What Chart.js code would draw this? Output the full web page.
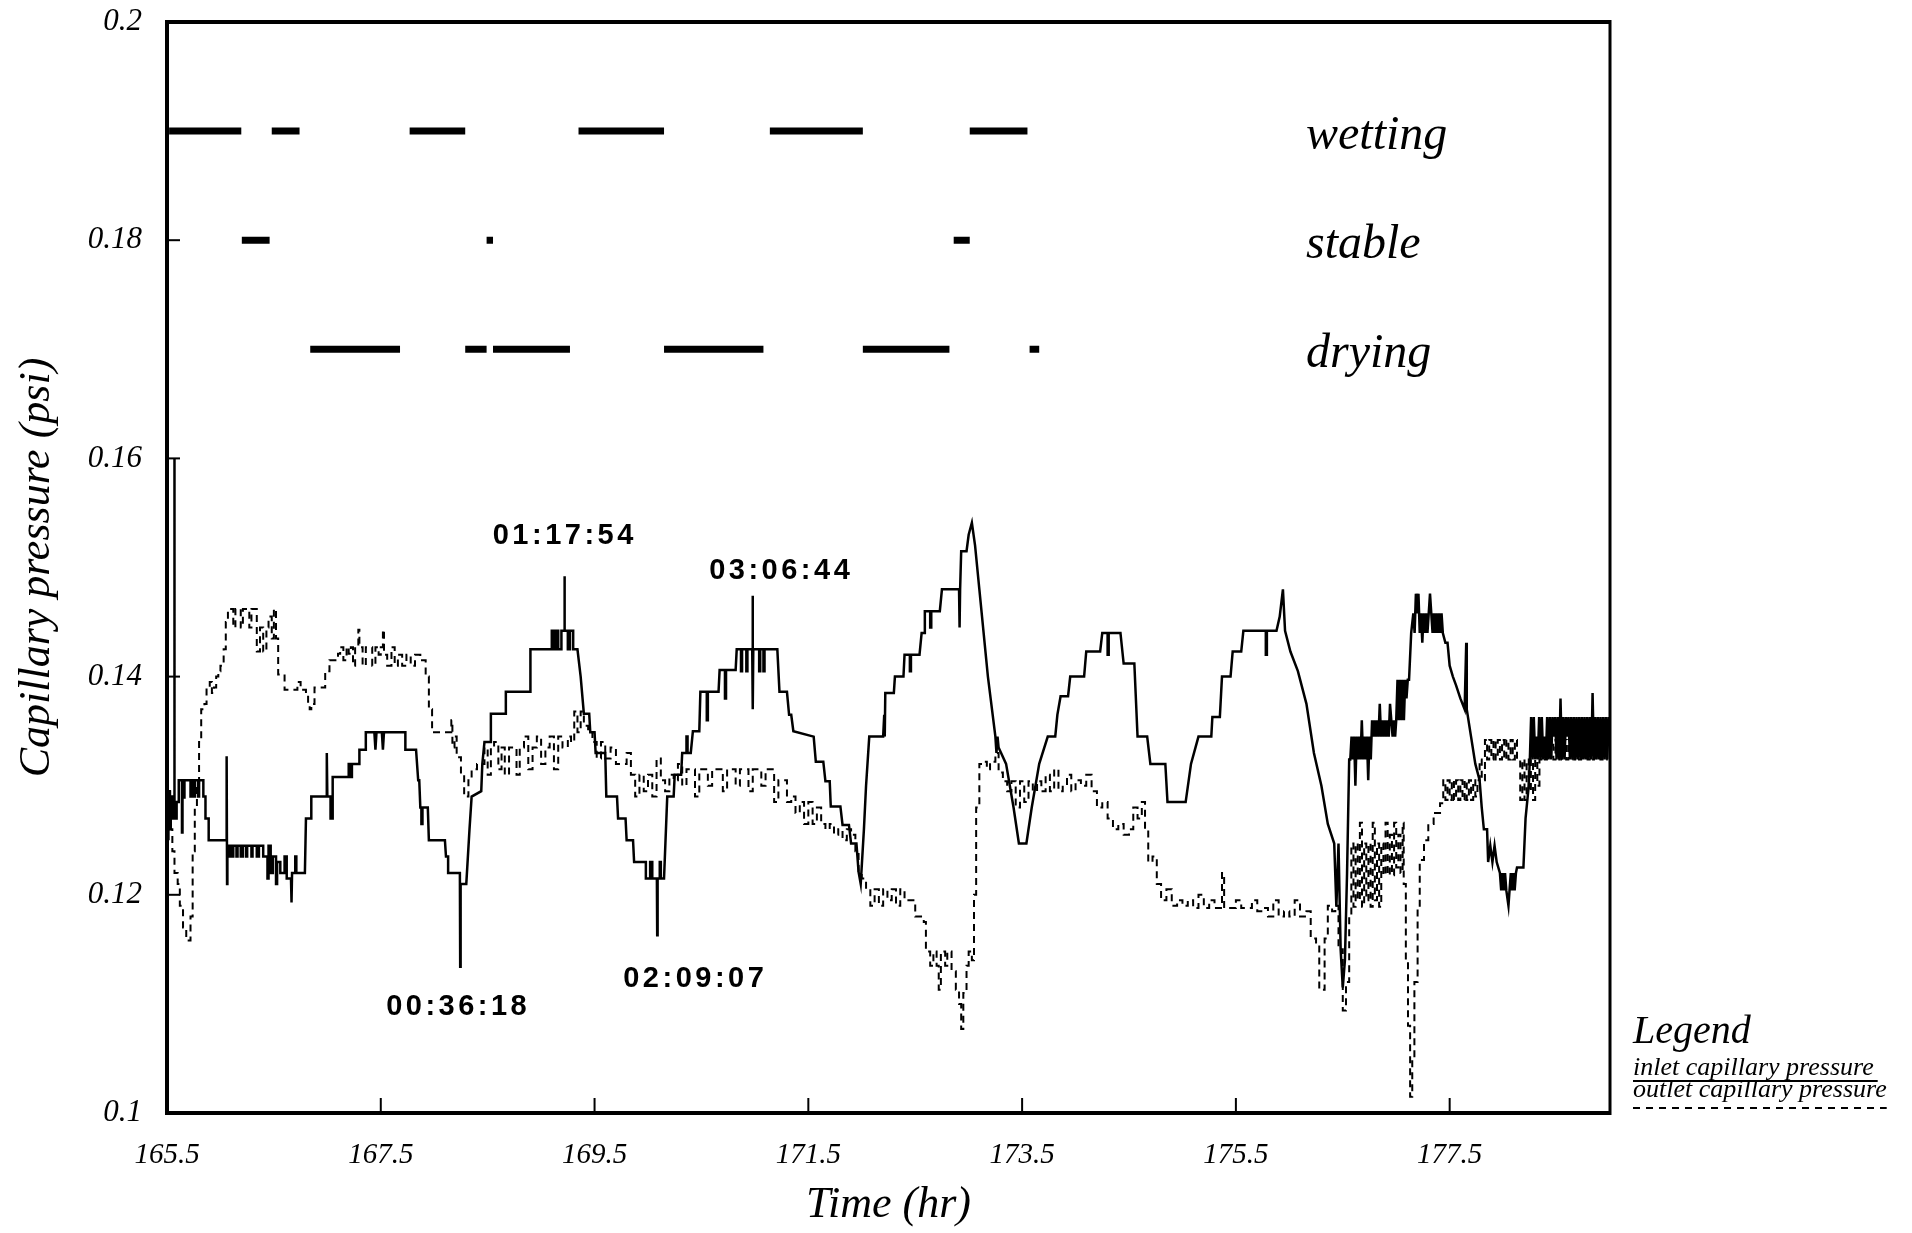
<!DOCTYPE html>
<html><head><meta charset="utf-8">
<script src="https://cdn.jsdelivr.net/npm/chart.js@4.4.1/dist/chart.umd.min.js"></script>
<style>html,body{margin:0;padding:0;background:#fff;}#wrap{width:1912px;height:1233px;}</style>
</head><body><div id="wrap"><canvas id="c" width="1912" height="1233"></canvas></div>
<script>
// ---------- data ----------
const xTickValues = [165.5, 167.5, 169.5, 171.5, 173.5, 175.5, 177.5];
const xTickLabels = ['165.5', '167.5', '169.5', '171.5', '173.5', '175.5', '177.5'];
const yTickValues = [0.1, 0.12, 0.14, 0.16, 0.18, 0.2];
const yTickLabels = ['0.1', '0.12', '0.14', '0.16', '0.18', '0.2'];

const phaseNames = ['wetting', 'stable', 'drying'];
const phaseLevels = [0.19, 0.18, 0.17];
const wettingSpans = [[165.52,166.195],[166.48,166.74],[167.77,168.29],[169.35,170.15],[171.14,172.01],[173.01,173.55]];
const stableSpans  = [[166.20,166.46],[168.49,168.55],[172.86,173.01]];
const dryingSpans  = [[166.84,167.68],[168.29,168.49],[168.55,169.27],[170.15,171.08],[172.01,172.82],[173.57,173.66]];

const inletPressure = [
[165.50,0.127],[165.51,0.127],[165.51,0.125],[165.515,0.125],[165.515,0.1295],[165.525,0.1295],[165.525,0.126],[165.535,0.126],[165.535,0.129],[165.55,0.129],[165.55,0.127],[165.566,0.127],[165.568,0.160],[165.572,0.127],[165.59,0.127],[165.59,0.1285],[165.61,0.1285],[165.61,0.1305],[165.64,0.1305],[165.64,0.1257],[165.645,0.1257],[165.645,0.1305],[165.66,0.1305],[165.66,0.1288],[165.665,0.1288],[165.665,0.1305],[165.72,0.1305],[165.72,0.129],[165.73,0.129],[165.73,0.1305],[165.75,0.1305],[165.75,0.129],[165.76,0.129],[165.76,0.1305],[165.79,0.1305],[165.79,0.129],[165.80,0.129],[165.80,0.1305],[165.84,0.1305],[165.84,0.129],[165.86,0.129],[165.86,0.127],[165.89,0.127],[165.89,0.125],[166.055,0.125],[166.058,0.1327],[166.062,0.121],[166.065,0.1245],
[166.08,0.1245],[166.08,0.1235],[166.09,0.1235],[166.09,0.1245],[166.11,0.1245],[166.11,0.1235],[166.12,0.1235],[166.12,0.1245],[166.15,0.1245],[166.15,0.1235],[166.16,0.1235],[166.16,0.1245],[166.19,0.1245],[166.19,0.1235],[166.21,0.1235],[166.21,0.1245],[166.24,0.1245],[166.24,0.1235],[166.25,0.1235],[166.25,0.1245],[166.29,0.1245],[166.29,0.1235],[166.30,0.1235],[166.30,0.1245],[166.34,0.1245],[166.34,0.1235],[166.36,0.1235],[166.36,0.1245],[166.40,0.1245],[166.40,0.1235],[166.44,0.1235],[166.44,0.1215],[166.45,0.1215],[166.45,0.1245],[166.47,0.1245],[166.47,0.122],[166.49,0.122],[166.49,0.1235],[166.52,0.1235],[166.52,0.121],[166.53,0.121],[166.53,0.123],[166.56,0.123],[166.56,0.122],[166.60,0.122],[166.60,0.1235],[166.62,0.1235],[166.62,0.1215],[166.66,0.1215],[166.665,0.1193],[166.67,0.122],[166.70,0.122],[166.70,0.1235],[166.71,0.1235],[166.71,0.122],[166.79,0.122],
[166.80,0.127],[166.85,0.127],[166.85,0.129],[166.99,0.129],[166.995,0.133],[167.0,0.129],[167.03,0.129],[167.03,0.127],[167.05,0.127],[167.05,0.1308],[167.20,0.1308],[167.20,0.132],[167.22,0.132],[167.22,0.1308],[167.23,0.1308],[167.23,0.132],[167.30,0.132],[167.30,0.1333],[167.36,0.1333],[167.36,0.1349],[167.44,0.1349],[167.45,0.1333],[167.46,0.1349],[167.51,0.1349],[167.52,0.1333],[167.53,0.1349],[167.73,0.1349],[167.73,0.1333],[167.83,0.1333],[167.85,0.1305],[167.86,0.1305],[167.87,0.128],[167.88,0.128],[167.88,0.1265],[167.89,0.1265],[167.89,0.128],[167.94,0.128],[167.95,0.125],[168.10,0.125],[168.11,0.1235],[168.13,0.1235],[168.13,0.122],[168.24,0.122],[168.243,0.1134],[168.247,0.121],[168.30,0.121],[168.33,0.126],[168.35,0.129],[168.44,0.1295],[168.45,0.132],[168.47,0.134],[168.53,0.134],[168.53,0.1366],[168.67,0.1366],[168.67,0.1386],[168.90,0.1386],[168.90,0.1425],
[169.10,0.1425],[169.10,0.1442],[169.12,0.1442],[169.12,0.1425],[169.14,0.1425],[169.14,0.1442],[169.16,0.1442],[169.16,0.1425],[169.19,0.1425],[169.19,0.1442],[169.215,0.1442],[169.218,0.1492],[169.222,0.1442],[169.25,0.1442],[169.25,0.1425],[169.27,0.1425],[169.27,0.1442],[169.30,0.1442],[169.30,0.1425],[169.34,0.1425],[169.37,0.14],[169.40,0.1366],[169.45,0.1366],[169.46,0.1349],[169.50,0.1349],[169.51,0.133],[169.60,0.133],[169.61,0.129],[169.71,0.129],[169.72,0.127],[169.79,0.127],[169.80,0.125],[169.86,0.125],[169.87,0.123],[169.98,0.123],[169.98,0.1215],[170.02,0.1215],[170.02,0.123],[170.04,0.123],[170.04,0.1215],[170.083,0.1215],[170.086,0.1163],[170.09,0.1215],[170.11,0.1215],[170.11,0.123],[170.12,0.123],[170.12,0.1215],[170.15,0.1215],
[170.18,0.129],[170.24,0.129],[170.25,0.131],[170.31,0.131],[170.32,0.133],[170.36,0.133],[170.36,0.1345],[170.37,0.1345],[170.37,0.133],[170.40,0.133],[170.42,0.135],[170.48,0.135],[170.49,0.1386],[170.55,0.1386],[170.55,0.136],[170.56,0.136],[170.56,0.1386],[170.66,0.1386],[170.67,0.1406],[170.72,0.1406],[170.72,0.138],[170.73,0.138],[170.73,0.1406],[170.82,0.1406],[170.83,0.1425],[170.87,0.1425],[170.87,0.1405],[170.88,0.1405],[170.88,0.1425],[170.92,0.1425],[170.92,0.1405],[170.93,0.1405],[170.93,0.1425],[170.975,0.1425],[170.978,0.1474],[170.982,0.137],[170.985,0.1425],[171.04,0.1425],[171.04,0.1405],[171.05,0.1405],[171.05,0.1425],[171.08,0.1425],[171.08,0.1405],[171.09,0.1405],[171.09,0.1425],[171.21,0.1425],[171.23,0.1386],[171.30,0.1386],[171.32,0.1365],[171.34,0.1365],[171.36,0.135],[171.55,0.1345],[171.57,0.1322],[171.64,0.1322],[171.66,0.1304],[171.70,0.1304],[171.71,0.1281],[171.80,0.1281],[171.82,0.1264],[171.88,0.1264],[171.90,0.1247],[171.95,0.1247],[171.97,0.1221],[171.99,0.121],
[172.02,0.126],[172.04,0.13],[172.07,0.1345],[172.20,0.1345],[172.21,0.1365],[172.215,0.1345],[172.22,0.1385],[172.30,0.1385],[172.31,0.14],[172.39,0.14],[172.40,0.142],[172.45,0.142],[172.45,0.1405],[172.46,0.1405],[172.46,0.142],[172.54,0.142],[172.56,0.144],[172.585,0.144],[172.59,0.146],[172.64,0.146],[172.64,0.1445],[172.65,0.1445],[172.65,0.146],[172.73,0.146],[172.75,0.148],[172.91,0.148],[172.915,0.1445],[172.92,0.148],[172.93,0.1515],[172.98,0.1515],[173.00,0.153],[173.03,0.1541],[173.06,0.152],[173.10,0.148],[173.18,0.140],[173.25,0.1345],[173.26,0.133],[173.27,0.1345],[173.28,0.1335],[173.35,0.132],[173.42,0.128],[173.47,0.1247],[173.54,0.1247],[173.59,0.128],[173.66,0.132],[173.74,0.1345],[173.81,0.1345],[173.83,0.1365],[173.86,0.1382],[173.93,0.1382],[173.95,0.140],
[174.08,0.140],[174.10,0.1423],[174.23,0.1423],[174.25,0.144],[174.30,0.144],[174.30,0.142],[174.31,0.142],[174.31,0.144],[174.42,0.144],[174.45,0.1412],[174.55,0.1412],[174.58,0.1345],[174.67,0.1345],[174.70,0.132],[174.84,0.132],[174.86,0.1285],[175.03,0.1285],[175.08,0.132],[175.15,0.1345],[175.27,0.1345],[175.28,0.1363],[175.35,0.1363],[175.37,0.140],[175.45,0.140],[175.47,0.1423],[175.55,0.1423],[175.57,0.1442],[175.78,0.1442],[175.78,0.1420],[175.79,0.1420],[175.79,0.1442],[175.88,0.1442],[175.91,0.1455],[175.94,0.148],[175.96,0.1442],[176.01,0.1423],[176.08,0.1405],[176.16,0.1375],[176.23,0.133],[176.30,0.130],[176.36,0.1265],[176.42,0.1247],[176.44,0.1189],[176.46,0.1247],[176.48,0.1150],[176.50,0.1115],[176.52,0.114],[176.54,0.122],[176.56,0.1324],
[176.57,0.1324],[176.582,0.1345],[176.594,0.1324],[176.606,0.1345],[176.618,0.1300],[176.63,0.1345],[176.642,0.1324],[176.654,0.1345],[176.666,0.1324],[176.678,0.1360],[176.69,0.1324],[176.702,0.1345],[176.714,0.1324],[176.726,0.1345],[176.738,0.1305],[176.75,0.1345],[176.762,0.1324],[176.774,0.1360],[176.786,0.1345],[176.798,0.1360],[176.81,0.1345],[176.822,0.1360],[176.834,0.1345],[176.846,0.1375],[176.858,0.1345],[176.87,0.1360],[176.882,0.1345],[176.894,0.1360],[176.906,0.1345],[176.918,0.1360],[176.93,0.1345],[176.942,0.1375],[176.954,0.1360],[176.966,0.1345],[176.978,0.1360],[176.99,0.1345],[177.0,0.1360],[177.012,0.1397],[177.024,0.1360],[177.036,0.1397],[177.048,0.1360],[177.06,0.1397],[177.072,0.1360],[177.084,0.1397],[177.096,0.1380],[177.108,0.1397],[177.12,0.1397],[177.14,0.1440],
[177.16,0.1458],[177.172,0.1440],[177.184,0.1476],[177.196,0.1458],[177.208,0.1476],[177.22,0.1440],[177.232,0.1458],[177.244,0.1431],[177.256,0.1458],[177.268,0.1440],[177.28,0.1458],[177.292,0.1440],[177.304,0.1458],[177.316,0.1476],[177.328,0.1458],[177.34,0.1440],[177.352,0.1458],[177.364,0.1440],[177.376,0.1458],[177.388,0.1440],[177.40,0.1458],[177.412,0.1440],[177.424,0.1458],[177.436,0.1440],[177.46,0.1431],[177.48,0.1431],[177.50,0.1410],[177.53,0.1400],[177.56,0.1392],[177.60,0.1380],[177.64,0.1370],[177.655,0.1431],[177.66,0.1370],[177.70,0.1345],[177.74,0.1320],[177.78,0.1305],[177.80,0.1280],[177.82,0.1260],[177.85,0.1260],[177.86,0.1230],[177.88,0.1245],[177.90,0.1230],[177.92,0.1245],[177.94,0.1230],[177.97,0.1220],[177.982,0.1204],[177.994,0.1220],[178.006,0.1204],[178.018,0.1220],[178.03,0.1204],[178.05,0.1190],[178.06,0.1204],[178.072,0.1220],[178.084,0.1204],[178.096,0.1220],[178.108,0.1204],[178.12,0.1220],[178.13,0.1225],[178.19,0.1225],[178.21,0.1270],[178.24,0.1300],[178.25,0.1324],
[178.262,0.1363],[178.275,0.1324],[178.287,0.1363],[178.30,0.1324],[178.312,0.1345],[178.325,0.1324],[178.337,0.1363],[178.35,0.1324],[178.362,0.1363],[178.375,0.1324],[178.387,0.1345],[178.40,0.1324],[178.412,0.1363],[178.425,0.1324],[178.437,0.1363],[178.45,0.1324],[178.462,0.1363],[178.475,0.1345],[178.487,0.1363],[178.50,0.1324],[178.512,0.1363],[178.525,0.1324],[178.537,0.1380],[178.55,0.1324],[178.562,0.1363],[178.575,0.1324],[178.587,0.1363],[178.60,0.1345],[178.612,0.1363],[178.625,0.1324],[178.637,0.1363],[178.65,0.1324],[178.662,0.1363],[178.675,0.1324],[178.687,0.1363],[178.70,0.1324],[178.712,0.1363],[178.725,0.1324],[178.737,0.1363],[178.75,0.1324],[178.762,0.1363],[178.775,0.1324],[178.787,0.1363],[178.80,0.1324],[178.812,0.1363],[178.825,0.1324],[178.837,0.1385],[178.85,0.1324],[178.862,0.1363],[178.875,0.1324],[178.887,0.1363],[178.90,0.1324],[178.912,0.1363],[178.925,0.1324],[178.937,0.1363],[178.95,0.1324],[178.962,0.1363],[178.975,0.1324],[178.987,0.1363],[179.0,0.1345]
];

const outletPressure = [
[165.52,0.1295],[165.53,0.126],[165.55,0.124],[165.57,0.122],[165.60,0.121],[165.62,0.119],[165.65,0.117],[165.68,0.1158],[165.70,0.1158],[165.72,0.118],[165.74,0.124],[165.76,0.128],[165.78,0.130],[165.80,0.134],[165.82,0.137],[165.85,0.1375],[165.87,0.139],[165.90,0.1395],[165.92,0.1385],[165.94,0.139],[165.96,0.140],[165.98,0.1405],[166.00,0.141],[166.03,0.1425],[166.05,0.145],[166.07,0.146],[166.10,0.1462],[166.12,0.1445],[166.14,0.1462],[166.17,0.1462],[166.19,0.1445],[166.21,0.1462],[166.25,0.1462],[166.27,0.1445],[166.29,0.1462],[166.32,0.1462],[166.34,0.1423],[166.37,0.1445],[166.40,0.1423],[166.43,0.1445],[166.45,0.1455],[166.48,0.1435],[166.50,0.1462],[166.52,0.1435],[166.54,0.1402],[166.58,0.1402],[166.60,0.1388],[166.70,0.1388],[166.72,0.1395],[166.75,0.1388],[166.80,0.1385],[166.82,0.1375],[166.835,0.137],[166.85,0.1375],[166.88,0.139],[166.95,0.139],[166.98,0.1405],
[167.02,0.1415],[167.10,0.1421],[167.12,0.1427],[167.15,0.1415],[167.18,0.1427],[167.20,0.1421],[167.22,0.1427],[167.24,0.1410],[167.26,0.1427],[167.28,0.1427],[167.29,0.1443],[167.30,0.1427],[167.33,0.1410],[167.36,0.1427],[167.40,0.1427],[167.42,0.1410],[167.45,0.1427],[167.48,0.1420],[167.50,0.1427],[167.52,0.1443],[167.53,0.1420],[167.56,0.1410],[167.60,0.1427],[167.63,0.1410],[167.66,0.1420],[167.70,0.1410],[167.74,0.1420],[167.78,0.1410],[167.82,0.1420],[167.87,0.1415],[167.90,0.1415],[167.92,0.140],[167.95,0.137],[167.98,0.1349],[168.05,0.1349],[168.10,0.1349],[168.15,0.1349],[168.16,0.136],[168.17,0.1335],[168.19,0.1345],[168.21,0.1326],[168.25,0.131],[168.28,0.129],[168.32,0.1305],[168.35,0.1315],[168.40,0.132],[168.44,0.132],[168.47,0.1335],[168.50,0.131],[168.53,0.1335],[168.56,0.134],[168.60,0.1315],[168.63,0.1335],[168.66,0.131],[168.70,0.1335],[168.74,0.1335],[168.77,0.131],[168.80,0.1335],[168.84,0.1345],[168.88,0.1315],[168.92,0.1335],[168.96,0.1345],
[169.00,0.132],[169.04,0.1335],[169.08,0.1345],[169.12,0.1315],[169.16,0.1345],[169.20,0.1335],[169.25,0.1345],[169.28,0.134],[169.31,0.1368],[169.34,0.1349],[169.37,0.1368],[169.40,0.1355],[169.44,0.1349],[169.48,0.134],[169.52,0.1325],[169.56,0.134],[169.60,0.1325],[169.65,0.1335],[169.70,0.132],[169.75,0.132],[169.80,0.133],[169.84,0.131],[169.88,0.129],[169.92,0.131],[169.96,0.1295],[170.00,0.131],[170.04,0.129],[170.08,0.1325],[170.12,0.1305],[170.16,0.1295],[170.20,0.131],[170.24,0.1305],[170.28,0.132],[170.32,0.13],[170.36,0.1315],[170.40,0.1315],[170.44,0.129],[170.48,0.1315],[170.52,0.1315],[170.56,0.13],[170.60,0.1315],[170.65,0.1315],[170.70,0.1295],[170.74,0.1315],[170.78,0.1315],[170.82,0.13],[170.86,0.1315],[170.90,0.1315],[170.94,0.1295],[170.98,0.1315],
[171.02,0.1315],[171.06,0.130],[171.10,0.1315],[171.14,0.1315],[171.18,0.1285],[171.22,0.1305],[171.26,0.1305],[171.30,0.1285],[171.34,0.129],[171.38,0.1275],[171.42,0.1285],[171.46,0.1265],[171.50,0.1285],[171.54,0.1265],[171.58,0.128],[171.62,0.1265],[171.66,0.126],[171.70,0.1265],[171.74,0.1255],[171.78,0.126],[171.82,0.125],[171.86,0.126],[171.90,0.1255],[171.94,0.124],[171.97,0.122],[172.00,0.1215],[172.04,0.1205],[172.08,0.119],[172.12,0.1205],[172.16,0.119],[172.20,0.1205],[172.24,0.1195],[172.28,0.1205],[172.32,0.119],[172.36,0.1205],[172.40,0.1195],[172.45,0.1195],[172.50,0.118],[172.55,0.118],[172.58,0.1175],[172.60,0.1148],[172.64,0.1135],[172.67,0.1148],[172.70,0.1135],[172.72,0.1113],[172.74,0.1148],[172.78,0.1135],[172.80,0.1148],[172.84,0.113],[172.88,0.1113],[172.91,0.1100],[172.93,0.1077],[172.95,0.1110],[172.98,0.1135],
[173.00,0.1148],[173.03,0.1140],[173.05,0.120],[173.07,0.128],[173.10,0.132],[173.14,0.1322],[173.17,0.1315],[173.20,0.1322],[173.25,0.133],[173.28,0.1312],[173.32,0.1304],[173.36,0.1295],[173.40,0.1304],[173.44,0.128],[173.48,0.1304],[173.52,0.1285],[173.56,0.1304],[173.60,0.1295],[173.64,0.1304],[173.68,0.1295],[173.72,0.131],[173.76,0.1295],[173.80,0.1315],[173.84,0.1295],[173.88,0.130],[173.92,0.131],[173.96,0.1295],[174.00,0.1305],[174.05,0.130],[174.10,0.131],[174.15,0.1295],[174.20,0.128],[174.25,0.1285],[174.30,0.127],[174.35,0.126],[174.40,0.1265],[174.45,0.1255],[174.50,0.126],[174.54,0.128],[174.58,0.127],[174.62,0.1285],[174.65,0.126],[174.68,0.123],[174.72,0.1235],[174.76,0.121],[174.80,0.1195],[174.85,0.1205],[174.90,0.119],[174.95,0.1195],
[175.00,0.119],[175.05,0.1195],[175.10,0.1188],[175.15,0.120],[175.20,0.1188],[175.25,0.1195],[175.30,0.1188],[175.35,0.1188],[175.37,0.122],[175.39,0.1188],[175.45,0.1188],[175.50,0.1195],[175.55,0.1188],[175.60,0.1188],[175.65,0.1195],[175.70,0.1185],[175.75,0.1188],[175.80,0.118],[175.85,0.1195],[175.90,0.118],[175.95,0.1185],[176.00,0.118],[176.05,0.1195],[176.10,0.118],[176.16,0.1185],[176.20,0.116],[176.25,0.1155],[176.28,0.1113],[176.31,0.1113],[176.33,0.1160],[176.36,0.119],[176.40,0.1185],[176.43,0.119],[176.46,0.115],[176.50,0.1094],[176.53,0.112],[176.56,0.118],
[176.58,0.1247],[176.60,0.1189],[176.62,0.1247],[176.64,0.1195],[176.66,0.1266],[176.68,0.1189],[176.70,0.1247],[176.72,0.1195],[176.74,0.1247],[176.76,0.1189],[176.78,0.1266],[176.80,0.1195],[176.82,0.1247],[176.84,0.1189],[176.86,0.1247],[176.88,0.1218],[176.90,0.1266],[176.92,0.1218],[176.94,0.1255],[176.96,0.1218],[176.98,0.1266],[177.00,0.1225],[177.02,0.1255],[177.04,0.122],[177.06,0.1266],[177.07,0.121],[177.09,0.114],[177.11,0.108],[177.13,0.1015],[177.15,0.105],[177.17,0.112],[177.20,0.119],[177.22,0.1232],[177.26,0.125],[177.30,0.1265],[177.35,0.1275],[177.41,0.1284],
[177.44,0.1305],[177.46,0.1287],[177.48,0.1305],[177.50,0.1287],[177.52,0.1305],[177.54,0.1287],[177.56,0.1305],[177.58,0.1287],[177.60,0.1305],[177.62,0.1287],[177.64,0.1305],[177.66,0.1287],[177.68,0.1305],[177.70,0.1287],[177.72,0.1305],[177.74,0.1290],[177.76,0.1305],[177.78,0.1324],[177.80,0.1305],[177.83,0.1342],[177.85,0.1324],[177.87,0.1342],[177.89,0.1324],[177.91,0.1342],[177.93,0.1324],[177.95,0.1342],[177.97,0.1324],[177.99,0.1342],[178.01,0.1324],[178.03,0.1342],[178.05,0.1324],[178.07,0.1342],[178.09,0.1324],[178.11,0.1342],[178.13,0.1324],[178.16,0.1287],[178.18,0.1324],[178.20,0.1287],[178.22,0.1324],[178.24,0.1295],[178.26,0.1324],[178.28,0.1287],[178.30,0.1324],[178.32,0.1300],[178.34,0.1324],[178.37,0.1342],
[178.39,0.1324],[178.41,0.1342],[178.43,0.1324],[178.45,0.1342],[178.47,0.1324],[178.49,0.1342],[178.51,0.1324],[178.53,0.1342],[178.55,0.1324],[178.57,0.1342],[178.59,0.1324],[178.61,0.1342],[178.63,0.1324],[178.65,0.1342],[178.67,0.1324],[178.69,0.1342],[178.71,0.1324],[178.73,0.1342],[178.75,0.1324],[178.77,0.1342],[178.79,0.1324],[178.81,0.1342],[178.83,0.1324],[178.85,0.1342],[178.87,0.1324],[178.89,0.1342],[178.91,0.1324],[178.93,0.1342],[178.95,0.1324],[178.97,0.1342],[179.00,0.1335]
];

const timeStampLabels = ['01:17:54', '03:06:44', '00:36:18', '02:09:07'];
const seriesNames = ['inlet capillary pressure', 'outlet capillary pressure'];

// ---------- layout (label anchors, in axis units) ----------
const timeStampAnchors = [[169.205,0.1529],[171.23,0.1497],[168.208,0.1097],[170.426,0.1123]];
const phaseLabelTime = 176.156;

const SERIF = '"Liberation Serif", "Times New Roman", serif';
const SANS = '"Liberation Sans", Arial, sans-serif';

function spansToPoints(spans, level) {
  const pts = [];
  spans.forEach(([s, e]) => { pts.push({x: s, y: level}, {x: e, y: level}, {x: e, y: null}); });
  return pts;
}
function pairsToPoints(pairs) { return pairs.map(([t, p]) => ({x: t, y: p})); }

function spacedText(ctx, text, cx, cy, spacing) {
  let w = 0;
  const ws = [...text].map(ch => ctx.measureText(ch).width);
  ws.forEach(v => w += v);
  w += spacing * (ws.length - 1);
  let xx = cx - w / 2;
  [...text].forEach((ch, i) => { ctx.fillText(ch, xx, cy); xx += ws[i] + spacing; });
}

const decor = {
  id: 'decor',
  afterDatasetsDraw(chart) {
    const {ctx, chartArea: a, scales: {x, y}} = chart;
    ctx.save();
    ctx.strokeStyle = '#000'; ctx.fillStyle = '#000'; ctx.lineCap = 'butt'; ctx.setLineDash([]);
    // frame
    ctx.lineWidth = 4;
    ctx.beginPath();
    ctx.moveTo(a.right, a.top); ctx.lineTo(a.left, a.top); ctx.lineTo(a.left, a.bottom); ctx.lineTo(a.right, a.bottom);
    ctx.stroke();
    ctx.lineWidth = 3;
    ctx.beginPath(); ctx.moveTo(a.right, a.top - 2); ctx.lineTo(a.right, a.bottom + 2); ctx.stroke();
    // inward ticks
    ctx.lineWidth = 2;
    xTickValues.forEach(v => { const px = x.getPixelForValue(v); ctx.beginPath(); ctx.moveTo(px, a.bottom); ctx.lineTo(px, a.bottom - 15); ctx.stroke(); });
    yTickValues.forEach(v => { const py = y.getPixelForValue(v); ctx.beginPath(); ctx.moveTo(a.left, py); ctx.lineTo(a.left + 13, py); ctx.stroke(); });
    // phase labels
    ctx.font = 'italic 48px ' + SERIF;
    ctx.textAlign = 'left'; ctx.textBaseline = 'alphabetic';
    phaseNames.forEach((n, i) => ctx.fillText(n, x.getPixelForValue(phaseLabelTime), y.getPixelForValue(phaseLevels[i]) + 18));
    // time stamps
    ctx.font = 'bold 29px ' + SANS;
    ctx.textBaseline = 'middle';
    timeStampLabels.forEach((t, i) => spacedText(ctx, t, x.getPixelForValue(timeStampAnchors[i][0]), y.getPixelForValue(timeStampAnchors[i][1]), 3.5));
    // legend
    const lx = a.right + 23;
    ctx.textAlign = 'left'; ctx.textBaseline = 'alphabetic';
    ctx.font = 'italic 40px ' + SERIF;
    ctx.fillText('Legend', lx, a.bottom - 70);
    ctx.font = 'italic 26px ' + SERIF;
    ctx.fillText(seriesNames[0], lx, a.bottom - 38);
    let w0 = ctx.measureText(seriesNames[0]).width;
    ctx.lineWidth = 2;
    ctx.beginPath(); ctx.moveTo(lx, a.bottom - 32); ctx.lineTo(lx + w0 + 4, a.bottom - 32); ctx.stroke();
    ctx.fillText(seriesNames[1], lx, a.bottom - 16);
    let w1 = ctx.measureText(seriesNames[1]).width;
    ctx.setLineDash([7, 6]);
    ctx.beginPath(); ctx.moveTo(lx, a.bottom - 5); ctx.lineTo(lx + w1, a.bottom - 5); ctx.stroke();
    ctx.restore();
  }
};

new Chart(document.getElementById('c'), {
  type: 'line',
  data: {
    datasets: [
      {label: seriesNames[0], data: pairsToPoints(inletPressure), borderColor: '#000', borderWidth: 2.5, pointRadius: 0, tension: 0, fill: false},
      {label: seriesNames[1], data: pairsToPoints(outletPressure), borderColor: '#000', borderWidth: 2, borderDash: [7, 5], stepped: true, pointRadius: 0, tension: 0, fill: false},
      {label: phaseNames[0], data: spansToPoints(wettingSpans, phaseLevels[0]), borderColor: '#000', borderWidth: 7, borderCapStyle: 'butt', pointRadius: 0, spanGaps: false},
      {label: phaseNames[1], data: spansToPoints(stableSpans, phaseLevels[1]), borderColor: '#000', borderWidth: 7, borderCapStyle: 'butt', pointRadius: 0, spanGaps: false},
      {label: phaseNames[2], data: spansToPoints(dryingSpans, phaseLevels[2]), borderColor: '#000', borderWidth: 7, borderCapStyle: 'butt', pointRadius: 0, spanGaps: false}
    ]
  },
  options: {
    responsive: false,
    animation: false,
    devicePixelRatio: 1,
    layout: {padding: {top: 22, right: 302, bottom: 0, left: 0}},
    plugins: {legend: {display: false}, tooltip: {enabled: false}},
    scales: {
      x: {
        type: 'linear', min: 165.5, max: 179,
        afterBuildTicks: s => { s.ticks = xTickValues.map(v => ({value: v})); },
        afterFit: s => { s.height = 120; },
        grid: {display: false, drawTicks: false}, border: {display: false},
        ticks: {color: '#000', padding: 25, maxRotation: 0, autoSkip: false, font: {family: SERIF, style: 'italic', size: 29},
          callback: (v) => { const i = xTickValues.indexOf(v); return i >= 0 ? xTickLabels[i] : ''; }},
        title: {display: true, text: 'Time (hr)', color: '#000', font: {family: SERIF, style: 'italic', size: 44, lineHeight: 1}, padding: {top: 0, bottom: 6}}
      },
      y: {
        type: 'linear', min: 0.1, max: 0.2,
        afterBuildTicks: s => { s.ticks = yTickValues.map(v => ({value: v})); },
        afterFit: s => { s.width = 167; },
        grid: {display: false, drawTicks: true, tickLength: 25}, border: {display: false},
        ticks: {color: '#000', padding: 0, autoSkip: false, font: {family: SERIF, style: 'italic', size: 31},
          callback: (v) => { const i = yTickValues.findIndex(t => Math.abs(t - v) < 1e-9); return i >= 0 ? yTickLabels[i] : ''; }},
        title: {display: true, text: 'Capillary pressure (psi)', color: '#000', font: {family: SERIF, style: 'italic', size: 44, lineHeight: 1}, padding: {top: 15, bottom: 0}}
      }
    }
  },
  plugins: [decor]
});
</script>
</body></html>
